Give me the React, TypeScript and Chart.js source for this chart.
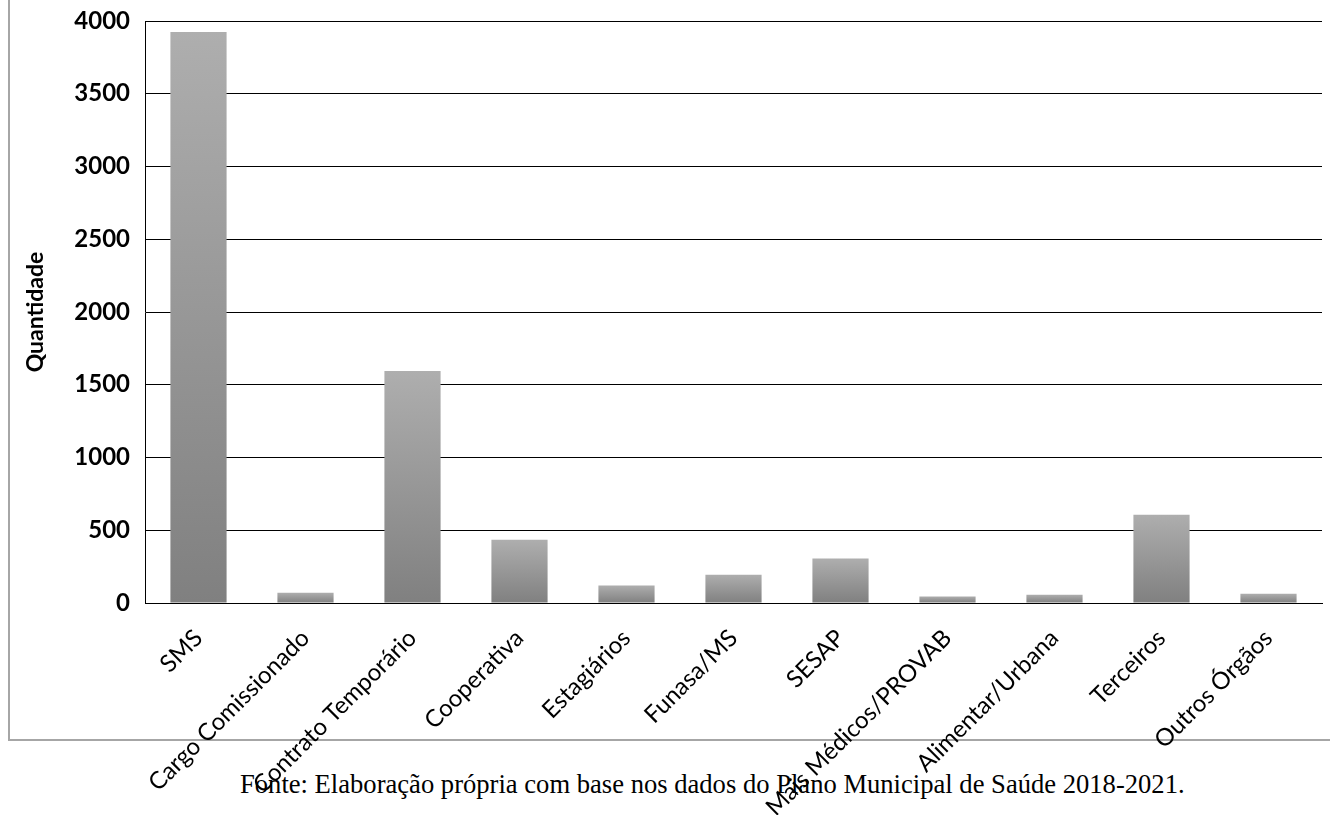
import React, { useEffect, useRef } from "react";
import { Chart, registerables } from "chart.js";

Chart.register(...registerables);

const categories = [
  "SMS",
  "Cargo Comissionado",
  "Contrato Temporário",
  "Cooperativa",
  "Estagiários",
  "Funasa/MS",
  "SESAP",
  "Mais Médicos/PROVAB",
  "Alimentar/Urbana",
  "Terceiros",
  "Outros Órgãos",
];
const quantities = [3925, 70, 1595, 435, 120, 195, 305, 45, 57, 607, 63];
const yTicks = [0, 500, 1000, 1500, 2000, 2500, 3000, 3500, 4000];
const yTitle = "Quantidade";
const footnote = "Fonte: Elaboração própria com base nos dados do Plano Municipal de Saúde 2018-2021.";

export default function App() {
  const ref = useRef<HTMLCanvasElement | null>(null);
  useEffect(() => {
    if (!ref.current) return;
    const chart = new Chart(ref.current, {
      type: "bar",
      data: {
        labels: categories,
        datasets: [
          {
            data: quantities,
            categoryPercentage: 1,
            barPercentage: 0.525,
            borderWidth: 0,
            backgroundColor: (ctx: any) => {
              const c = ctx.chart;
              if (!c.chartArea || !c.scales.y || ctx.raw == null) return "#999";
              const ys = c.scales.y;
              const top = ys.getPixelForValue(ctx.raw);
              const bottom = ys.getPixelForValue(0);
              if (!isFinite(top) || !isFinite(bottom) || top === bottom) return "#999";
              const g = c.ctx.createLinearGradient(0, top, 0, bottom);
              g.addColorStop(0, "rgb(174,174,174)");
              g.addColorStop(1, "rgb(128,128,128)");
              return g;
            },
          },
        ],
      },
      options: {
        animation: false,
        responsive: false,
        maintainAspectRatio: false,
        layout: { padding: { top: 21, right: 8, bottom: 0, left: 0 } },
        plugins: { legend: { display: false }, tooltip: { enabled: false } },
        scales: {
          x: {
            grid: { display: false },
            border: { display: true, color: "#000", width: 1 },
            ticks: {
              color: "#000",
              font: { family: "Lato", size: 24 },
              maxRotation: 45,
              minRotation: 45,
              autoSkip: false,
              padding: 13,
            },
            afterFit: (scale: any) => {
              scale.height = 815 - 603;
              scale.paddingLeft = 0;
              scale.paddingRight = 0;
            },
          },
          y: {
            min: 0,
            max: 4000,
            afterBuildTicks: (scale: any) => {
              scale.ticks = yTicks.map((v) => ({ value: v }));
            },
            grid: { color: "#000", lineWidth: 1, drawTicks: false },
            border: { display: true, color: "#000", width: 1 },
            ticks: {
              color: "#000",
              font: { family: "Lato", size: 24, weight: "bold" },
              padding: 15,
              callback: (v: any) => String(v),
            },
            title: {
              display: true,
              text: yTitle,
              color: "#000",
              font: { family: "Lato", size: 23, weight: "bold" },
              padding: { top: 22, bottom: 0 },
            },
            afterFit: (scale: any) => {
              scale.width = 145;
              scale.paddingTop = 0;
              scale.paddingBottom = 0;
            },
          },
        },
      },
    });
    return () => chart.destroy();
  }, []);

  return (
    <div
      style={{
        position: "fixed",
        left: 0,
        top: 0,
        width: 1330,
        height: 815,
        overflow: "hidden",
        background: "#fff",
      }}
    >
      <div
        style={{
          position: "absolute",
          left: 8,
          top: -10,
          width: 1340,
          height: 743 + 10 - 2,
          borderLeft: "2px solid #a6a6a6",
          borderBottom: "2px solid #a6a6a6",
          boxSizing: "border-box",
        }}
      />
      <div
        style={{
          position: "absolute",
          left: 240,
          top: 769,
          fontFamily: "'Liberation Serif', 'Times New Roman', serif",
          fontSize: 26.6,
          color: "#000",
          whiteSpace: "nowrap",
        }}
      >
        {footnote}
      </div>
      <canvas
        ref={ref}
        width={1330}
        height={815}
        style={{ position: "absolute", left: 0, top: 0, width: 1330, height: 815 }}
      />
    </div>
  );
}
